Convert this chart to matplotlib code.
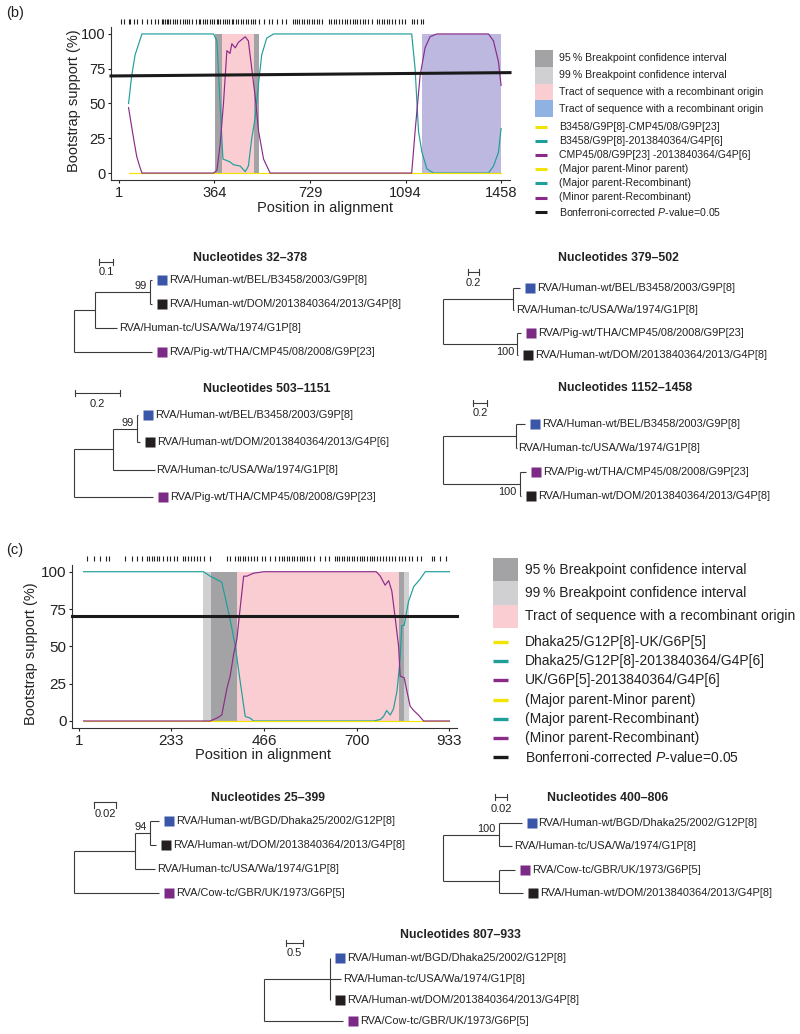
import matplotlib
matplotlib.use("Agg")
import matplotlib.pyplot as plt
from matplotlib.transforms import offset_copy

plt.rcParams["font.family"] = ["Liberation Sans", "DejaVu Sans"]
plt.rcParams["mathtext.fontset"] = "custom"
plt.rcParams["mathtext.rm"] = "Liberation Sans"
plt.rcParams["mathtext.it"] = "Liberation Sans:italic"

FW, FH = 800, 1034

TEAL = "#1f9e9a"
PURPLE = "#8a2b8a"
YELLOW = "#f0e400"
DGREY = "#a3a3a5"
LGREY = "#d0d0d2"
PINK = "#f9cdd2"
LAVENDER = "#bcb8e0"
LBLUE = "#8fb2e2"
SQ_BLUE = "#3a56a8"
SQ_BLACK = "#231f20"
SQ_PURPLE = "#7b2a85"

# ---------------- (b) bootscan data ----------------
b_xticks = [1, 364, 729, 1094, 1458]
b_teal_x = [37, 49, 62, 88, 361, 374, 386, 397, 412, 424, 437, 463, 482, 494, 507, 520, 533, 545,
            564, 590, 1117, 1130, 1143, 1156, 1175, 1200, 1410, 1429, 1448, 1458]
b_teal_y = [50, 70, 85, 100, 100, 95, 50, 10, 9, 8, 6, 5, 1, 5, 25, 40, 65, 85,
            97, 100, 100, 75, 30, 15, 3, 0, 0, 5, 15, 32]
b_purple_x = [37, 56, 68, 79, 88, 361, 374, 386, 399, 412, 424, 431, 444, 456, 469, 482, 494, 507,
              520, 533, 552, 577, 1117, 1130, 1149, 1168, 1187, 1213, 1410, 1429, 1448, 1458]
b_purple_y = [47, 25, 12, 5, 0, 0, 2, 20, 50, 88, 86, 93, 90, 94, 96, 98, 95, 75,
              55, 30, 10, 0, 0, 30, 70, 90, 98, 100, 100, 95, 80, 63]
b_yellow_x = [37, 1458]
b_yellow_y = [0, 0]
b_threshold = [69.8, 72.2]
b_ci95 = [(367, 395), (516, 536)]
b_ci99 = []
b_tracts = [(395, 516, PINK), (1156, 1458, LAVENDER)]
b_sites = [7, 20, 37, 43, 56, 71, 88, 107, 122, 138, 151, 164, 170, 176, 183, 189, 195, 206, 214,
           221, 234, 244, 253, 259, 269, 278, 295, 304, 310, 320, 329, 338, 346, 355, 363, 374, 380,
           386, 397, 405, 412, 422, 431, 437, 447, 456, 465, 475, 485, 494, 503, 511, 520, 533, 552,
           571, 583, 602, 621, 638, 663, 672, 681, 689, 698, 707, 717, 727, 736, 745, 755, 765, 774,
           800, 809, 819, 829, 838, 850, 863, 872, 882, 892, 901, 910, 920, 931, 939, 952, 965, 984,
           994, 1003, 1012, 1022, 1032, 1041, 1054, 1067, 1079, 1092, 1117, 1126, 1136, 1152, 1159]

# ---------------- (c) bootscan data ----------------
c_xticks = [1, 233, 466, 700, 933]
c_teal_x = [12, 314, 331, 360, 381, 394, 406, 419, 431, 440, 742, 759, 767, 775, 784, 792, 801,
            809, 813, 819, 830, 843, 859, 872, 933]
c_teal_y = [100, 100, 97, 93, 68, 50, 27, 3, 2, 0, 0, 1, 3, 7, 4, 8, 20,
            42, 64, 64, 80, 90, 95, 100, 100]
c_purple_x = [12, 331, 348, 360, 373, 381, 390, 398, 406, 415, 423, 431, 440, 465, 749, 759, 771,
              780, 788, 796, 805, 809, 819, 826, 834, 843, 855, 868, 933]
c_purple_y = [0, 0, 2, 4, 22, 30, 45, 55, 75, 97, 97, 98, 99, 100, 100, 97, 91,
              94, 87, 70, 50, 30, 29, 20, 10, 7, 4, 0, 0]
c_yellow_x = [12, 933]
c_yellow_y = [0, 0]
c_threshold = [70.3, 70.3]
c_ci95 = [(333, 398), (806, 819)]
c_ci99 = [(313, 333), (819, 832)]
c_tracts = [(398, 806, PINK)]
c_sites = [22, 39, 54, 69, 77, 117, 134, 146, 159, 171, 178, 184, 190, 197, 203, 213, 222, 230,
           239, 247, 262, 268, 274, 282, 289, 297, 306, 314, 331, 373, 381, 394, 400, 406, 413, 419,
           427, 433, 440, 448, 461, 469, 482, 494, 505, 511, 517, 524, 530, 536, 542, 549, 556, 562,
           567, 574, 583, 591, 608, 620, 629, 645, 651, 656, 662, 668, 675, 681, 687, 693, 700, 707,
           712, 718, 725, 732, 738, 744, 750, 757, 765, 774, 782, 788, 796, 805, 813, 822, 830, 838,
           851, 861, 889, 895, 908, 925]

# ---------------- legends ----------------
b_leg_patches = [("95\u2009% Breakpoint confidence interval", DGREY),
                 ("99\u2009% Breakpoint confidence interval", LGREY),
                 ("Tract of sequence with a recombinant origin", PINK),
                 ("Tract of sequence with a recombinant origin", LBLUE)]
b_leg_lines = [("B3458/G9P[8]-CMP45/08/G9P[23]", YELLOW),
               ("B3458/G9P[8]-2013840364/G4P[6]", TEAL),
               ("CMP45/08/G9P[23] -2013840364/G4P[6]", PURPLE),
               ("(Major parent-Minor parent)", YELLOW),
               ("(Major parent-Recombinant)", TEAL),
               ("(Minor parent-Recombinant)", PURPLE),
               ("Bonferroni-corrected $P$-value=0.05", "#1a1a1a")]
c_leg_patches = [("95\u2009% Breakpoint confidence interval", DGREY),
                 ("99\u2009% Breakpoint confidence interval", LGREY),
                 ("Tract of sequence with a recombinant origin", PINK)]
c_leg_lines = [("Dhaka25/G12P[8]-UK/G6P[5]", YELLOW),
               ("Dhaka25/G12P[8]-2013840364/G4P[6]", TEAL),
               ("UK/G6P[5]-2013840364/G4P[6]", PURPLE),
               ("(Major parent-Minor parent)", YELLOW),
               ("(Major parent-Recombinant)", TEAL),
               ("(Minor parent-Recombinant)", PURPLE),
               ("Bonferroni-corrected $P$-value=0.05", "#1a1a1a")]


# ---------------- trees ----------------
def T(label, bl, color=None):
    return {"label": label, "bl": bl, "color": color}


def N(bl, children, support=None, side="above"):
    return {"bl": bl, "children": children, "support": support, "side": side}


BEL = "RVA/Human-wt/BEL/B3458/2003/G9P[8]"
DOM8 = "RVA/Human-wt/DOM/2013840364/2013/G4P[8]"
DOM6 = "RVA/Human-wt/DOM/2013840364/2013/G4P[6]"
WA = "RVA/Human-tc/USA/Wa/1974/G1P[8]"
PIG = "RVA/Pig-wt/THA/CMP45/08/2008/G9P[23]"
DHK = "RVA/Human-wt/BGD/Dhaka25/2002/G12P[8]"
COW = "RVA/Cow-tc/GBR/UK/1973/G6P[5]"

tree_b1 = N(0, [N(0.15, [N(0.39, [T(BEL, 0.015, SQ_BLUE), T(DOM8, 0.015, SQ_BLACK)], "99"),
                         T(WA, 0.16)]),
                T(PIG, 0.555, SQ_PURPLE)])
tree_b2 = N(0, [N(1.27, [T(BEL, 0.13, SQ_BLUE), T(WA, 0.02)]),
                N(1.35, [T(PIG, 0.07, SQ_PURPLE), T(DOM8, 0.02, SQ_BLACK)], "100", "below")])
tree_b3 = N(0, [N(0.173, [N(0.107, [T(BEL, 0.004, SQ_BLUE), T(DOM6, 0.013, SQ_BLACK)], "99"),
                          T(WA, 0.185)]),
                T(PIG, 0.351, SQ_PURPLE)])
tree_b4 = N(0, [N(1.04, [T(BEL, 0.13, SQ_BLUE), T(WA, 0.01)]),
                N(1.10, [T(PIG, 0.086, SQ_PURPLE), T(DOM8, 0.01, SQ_BLACK)], "100", "below")])
tree_c1 = N(0, [N(0.0555, [N(0.0136, [T(DHK, 0.008, SQ_BLUE), T(DOM8, 0.0055, SQ_BLACK)], "94"),
                           T(WA, 0.018)]),
                T(COW, 0.077, SQ_PURPLE)])
tree_c2 = N(0, [N(0.093, [T(DHK, 0.038, SQ_BLUE), T(WA, 0.022)], "100"),
                N(0.093, [T(COW, 0.027, SQ_PURPLE), T(DOM8, 0.04, SQ_BLACK)])])
tree_c3 = N(0, [N(1.94, [T(DHK, 0.0, SQ_BLUE), T(WA, 0.32), T(DOM8, 0.0, SQ_BLACK)]),
                T(COW, 2.32, SQ_PURPLE)])

fig = plt.figure(figsize=(FW / 100, FH / 100), dpi=100)


def bootscan(box, xlim, ylim, xticks, teal, purple, yellow, thr, ci95, ci99, tracts,
             sites, site_y, fs_tick, ylab_xy, xlab_xy):
    l, t, r, b = box
    ax = fig.add_axes([l / FW, 1 - b / FH, (r - l) / FW, (b - t) / FH])
    for a, e in ci99:
        ax.fill_between([a, e], 0, 100, color=LGREY, lw=0, zorder=0)
    for a, e in ci95:
        ax.fill_between([a, e], 0, 100, color=DGREY, lw=0, zorder=0)
    for a, e, col in tracts:
        ax.fill_between([a, e], 0, 100, color=col, lw=0, zorder=0)
    ax.plot(teal[0], teal[1], color=TEAL, lw=0.85, zorder=2)
    ax.plot(yellow[0], yellow[1], color=YELLOW, lw=0.85, zorder=3)
    ax.plot(purple[0], purple[1], color=PURPLE, lw=0.85, zorder=4)
    ax.plot(xlim, thr, color="#1a1a1a", lw=2.2, zorder=5, clip_on=False)
    ax.vlines(sites, site_y[0], site_y[1], color="#222222", lw=0.8, clip_on=False)
    ax.set_xlim(*xlim)
    ax.set_ylim(*ylim)
    ax.set_xticks(xticks)
    ax.set_yticks([0, 25, 50, 75, 100])
    for s in ["top", "right"]:
        ax.spines[s].set_visible(False)
    for s in ["left", "bottom"]:
        ax.spines[s].set_linewidth(0.8)
        ax.spines[s].set_color("#333333")
    ax.tick_params(axis="y", length=2, width=0.8, pad=2, labelsize=fs_tick, colors="#222222")
    ax.tick_params(axis="x", length=2.5, width=0.8, pad=2, labelsize=fs_tick, colors="#222222")
    ax.set_ylabel("Bootstrap support (%)", fontsize=10.5, color="#222222")
    ax.set_xlabel("Position in alignment", fontsize=10.5, color="#222222")
    ax.yaxis.set_label_coords(*ylab_xy)
    ax.xaxis.set_label_coords(*xlab_xy)
    return ax


bootscan((111, 27, 510, 180), (-30, 1492), (-5, 105), b_xticks,
         (b_teal_x, b_teal_y), (b_purple_x, b_purple_y), (b_yellow_x, b_yellow_y),
         b_threshold, b_ci95, b_ci99, b_tracts, b_sites, (107.2, 110.8), 10.5,
         (-0.075, 0.52), (0.536, -0.135))
bootscan((72, 565, 457, 728), (-17, 952), (-4.7, 104.5), c_xticks,
         (c_teal_x, c_teal_y), (c_purple_x, c_purple_y), (c_yellow_x, c_yellow_y),
         c_threshold, c_ci95, c_ci99, c_tracts, c_sites, (107.2, 110.5), 11,
         (-0.088, 0.457), (0.496, -0.125))


def draw_tree(tree, root_px, top_px, step_px, unit_px, title, title_px, bar):
    tips, hsegs, vsegs, sups = [], [], [], []

    def walk(node, x0):
        x = x0 + node["bl"]
        if "label" in node:
            y = len(tips)
            tips.append((x, y, node["label"], node["color"]))
        else:
            ys = [walk(c, x) for c in node["children"]]
            y = (ys[0] + ys[-1]) / 2
            vsegs.append((x, ys[0], ys[-1]))
            if node["support"]:
                sups.append((x, y, node["support"], node["side"]))
        if node["bl"] > 0:
            hsegs.append((y, x0, x))
        return y

    walk(tree, 0.0)
    n = len(tips)
    W = 360
    ax = fig.add_axes([root_px / FW, 1 - (top_px + n * step_px) / FH, W / FW, (n + 1) * step_px / FH])
    ax.set_xlim(0, W / unit_px)
    ax.set_ylim(n, -1)
    ax.axis("off")
    lc = "#3a3a3a"
    for y, a, e in hsegs:
        ax.plot([a, e], [y, y], color=lc, lw=0.8, clip_on=False, solid_capstyle="butt")
    for x, a, e in vsegs:
        ax.plot([x, x], [a, e], color=lc, lw=0.8, clip_on=False, solid_capstyle="butt")
    sq_tr = offset_copy(ax.transData, fig=fig, x=10, y=0, units="dots")
    for x, y, label, color in tips:
        if color:
            ax.plot(x, y, "s", ms=6.6, color=color, mec="none", transform=sq_tr, clip_on=False)
            dx = 17
        else:
            dx = 2
        ax.annotate(label, (x, y), xytext=(dx, 0), textcoords="offset pixels",
                    ha="left", va="center", fontsize=7.9, color="#222222")
    for x, y, s, side in sups:
        dy = 6 if side == "above" else -8
        ax.annotate(s, (x, y), xytext=(-3, dy), textcoords="offset pixels",
                    ha="right", va="center", fontsize=7.9, color="#222222")
    blen, bx_px, by_px, blabel, bly_px, bstyle = bar
    bx = (bx_px - root_px) / unit_px
    by = (by_px - top_px) / step_px
    cap = 3.0 / step_px
    ax.plot([bx, bx + blen], [by, by], color=lc, lw=0.8, clip_on=False)
    if bstyle == "bracket":
        for xx in (bx, bx + blen):
            ax.plot([xx, xx], [by, by + 2 * cap], color=lc, lw=0.8, clip_on=False)
    else:
        for xx in (bx, bx + blen):
            ax.plot([xx, xx], [by - cap, by + cap], color=lc, lw=0.8, clip_on=False)
    ax.text(bx + blen / 2, (bly_px - top_px) / step_px, blabel, ha="center", va="center",
            fontsize=8, color="#222222", clip_on=False)
    fig.text(title_px[0] / FW, 1 - title_px[1] / FH, title, ha="center", va="center",
             fontsize=8.8, fontweight="bold", color="#222222")


draw_tree(tree_b1, 74, 280, 24, 140, "Nucleotides 32\u2013378", (250, 258),
          (0.1, 99, 262, "0.1", 272, "h"))
draw_tree(tree_b2, 443, 288, 22.3, 55, "Nucleotides 379\u2013502", (618, 258),
          (0.2, 468, 272, "0.2", 283, "h"))
draw_tree(tree_b3, 74, 415, 27.3, 225, "Nucleotides 503\u20131151", (267, 389),
          (0.2, 75, 393, "0.2", 404, "h"))
draw_tree(tree_b4, 443, 424, 24, 70, "Nucleotides 1152\u20131458", (625, 388),
          (0.2, 473, 403, "0.2", 413, "h"))
draw_tree(tree_c1, 74, 821, 24, 1100, "Nucleotides 25\u2013399", (268, 798),
          (0.02, 94, 802, "0.02", 814, "bracket"))
draw_tree(tree_c2, 443, 823, 23.3, 600, "Nucleotides 400\u2013806", (608, 798),
          (0.02, 495, 797, "0.02", 809, "h"))
draw_tree(tree_c3, 264, 958, 21, 34, "Nucleotides 807\u2013933", (460, 935),
          (0.5, 286, 943, "0.5", 953, "h"))

# ---------------- legends and panel letters ----------------
lax = fig.add_axes([0, 0, 1, 1])
lax.set_xlim(0, FW)
lax.set_ylim(FH, 0)
lax.axis("off")


def legend(patches, lines, px, pw, py0, ph, tx, ly0, lstep, lw_px, fs, lwidth):
    for i, (lab, col) in enumerate(patches):
        lax.add_patch(plt.Rectangle((px, py0 + i * ph), pw, ph, color=col, lw=0))
        lax.text(tx, py0 + (i + 0.5) * ph, lab, ha="left", va="center", fontsize=fs, color="#222222")
    for i, (lab, col) in enumerate(lines):
        y = ly0 + i * lstep
        lax.plot([px, px + lw_px], [y, y], color=col, lw=lwidth, solid_capstyle="butt")
        lax.text(tx, y, lab, ha="left", va="center", fontsize=fs, color="#222222")


legend(b_leg_patches, b_leg_lines, 535, 18, 50, 16.75, 559, 127, 14.1, 12, 7.6, 2.2)
legend(c_leg_patches, c_leg_lines, 493, 25, 558, 23.3, 525, 642, 19.2, 15, 10, 2.4)

lax.text(15, 13, "(b)", ha="center", va="center", fontsize=10.5, color="#222222")
lax.text(15, 550, "(c)", ha="center", va="center", fontsize=10.5, color="#222222")

fig.savefig("out.png", dpi=100)
